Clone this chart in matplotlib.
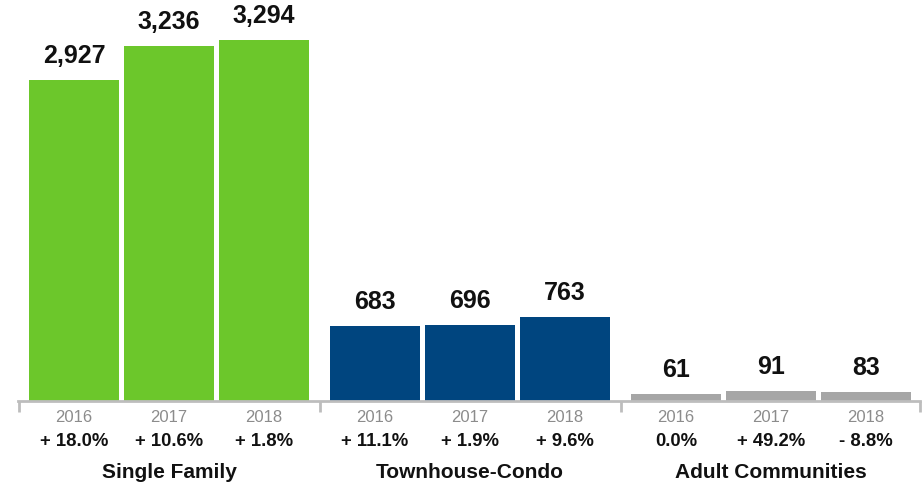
import matplotlib
matplotlib.use('Agg')
import matplotlib.pyplot as plt

plt.rcParams['font.family'] = ['Liberation Sans', 'DejaVu Sans']

# Closed sales by property type
groups = ['Single Family', 'Townhouse-Condo', 'Adult Communities']
years = ['2016', '2017', '2018']
single_family = [2927, 3236, 3294]
townhouse_condo = [683, 696, 763]
adult_communities = [61, 91, 83]
changes = [
    ['+ 18.0%', '+ 10.6%', '+ 1.8%'],
    ['+ 11.1%', '+ 1.9%', '+ 9.6%'],
    ['0.0%', '+ 49.2%', '- 8.8%'],
]

series = [single_family, townhouse_condo, adult_communities]
colors = ['#6cc72b', '#00457f', '#a6a6a6']
axis_gray = '#bdbdbd'

BAR_W = 0.90
BAR_STEP = 0.95
GROUP_STEP = 3.01


def main():
    fig = plt.figure(figsize=(9.22, 4.87), dpi=100)
    # axes spans pixel x 18..920, baseline at pixel row 401
    ax = fig.add_axes([18 / 922, (487 - 401) / 487, 902 / 922, 401 / 487])

    for g, values in enumerate(series):
        start = g * GROUP_STEP
        xs = [start + BAR_W / 2 + i * BAR_STEP for i in range(len(values))]
        ax.bar(xs, values, width=BAR_W, color=colors[g], align='center',
               zorder=2)
        for i, (x, v) in enumerate(zip(xs, values)):
            ax.annotate(f'{v:,}', (x, v), xytext=(0, 24),
                        textcoords='offset pixels', ha='center', va='center',
                        fontsize=18, fontweight='bold', color='#111111')
            ax.annotate(years[i], (x, 0), xytext=(0, -16),
                        textcoords='offset pixels', ha='center', va='center',
                        fontsize=12, color='#8c8c8c')
            ax.annotate(changes[g][i], (x, 0), xytext=(0, -41),
                        textcoords='offset pixels', ha='center', va='center',
                        fontsize=13.3, fontweight='bold', color='#111111')
        ax.annotate(groups[g], (xs[1], 0), xytext=(0, -72),
                    textcoords='offset pixels', ha='center', va='center',
                    fontsize=15, fontweight='bold', color='#111111')

    ax.set_xlim(-0.11, 8.91)
    ax.set_ylim(0, 3294 * 401 / 361)

    for side in ['top', 'right', 'left']:
        ax.spines[side].set_visible(False)
    ax.spines['bottom'].set_color(axis_gray)
    ax.spines['bottom'].set_linewidth(2)
    ax.spines['bottom'].set_zorder(3)

    boundaries = [-0.11 + 0.005, 2.905, 5.915, 8.91 - 0.005]
    ax.set_xticks(boundaries)
    ax.set_xticklabels([])
    ax.tick_params(axis='x', length=8, width=2, color=axis_gray,
                   direction='out')
    ax.set_yticks([])

    fig.savefig('out.png', dpi=100)


if __name__ == '__main__':
    main()
